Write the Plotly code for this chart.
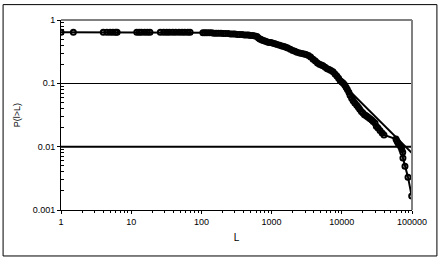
import plotly.graph_objects as go

# Empirical complementary cumulative distribution P(l>L)
L_values = [1, 1.5, 4, 4.5, 5, 5.5, 6, 6.3, 12, 13, 14, 15.5, 17, 18.5, 26, 29, 32, 35, 39, 43, 48, 53, 58, 64, 69,
            105, 112, 120, 130, 140, 150, 162, 175, 190, 205, 220, 240, 260, 280, 300, 325, 350, 380, 410, 440, 470,
            500, 540, 580, 620, 650, 680, 710, 740, 780, 820, 870, 920, 980, 1050, 1120, 1200, 1300, 1400, 1500,
            1600, 1700, 1850, 2000, 2150, 2300, 2500, 2700, 2900, 3100, 3350, 3600, 3900, 4200, 4500, 4800, 5100,
            5400, 5800, 6200, 6600, 7000, 7500, 8000, 8500, 9000, 9500, 10000, 10500, 11000, 11500, 12000, 12600,
            13100, 13800, 14500, 15300, 16300, 17200, 18000, 19000, 20000, 21000, 22000, 23000, 24000, 25300,
            26700, 28000, 29700, 31000, 32800, 35000, 37500, 39900, 59100, 61000, 63100, 66000, 69000, 71500,
            73800, 74300, 79400, 87700, 99000]
P_values = [0.64, 0.64, 0.64, 0.64, 0.64, 0.64, 0.64, 0.64, 0.64, 0.64, 0.64, 0.64, 0.64, 0.64, 0.64, 0.64, 0.64,
            0.64, 0.64, 0.64, 0.64, 0.64, 0.64, 0.64, 0.64,
            0.63, 0.63, 0.63, 0.63, 0.63, 0.62, 0.62, 0.62, 0.62, 0.61, 0.61, 0.61, 0.60, 0.60, 0.60, 0.59, 0.59,
            0.59, 0.58, 0.58, 0.58, 0.57, 0.57, 0.56, 0.55, 0.52, 0.50, 0.49, 0.48, 0.47, 0.46, 0.45, 0.44, 0.44,
            0.43, 0.42, 0.41, 0.40, 0.39, 0.38, 0.37, 0.36, 0.345, 0.33, 0.32, 0.31, 0.30, 0.295, 0.29, 0.285,
            0.275, 0.26, 0.24, 0.225, 0.21, 0.20, 0.195, 0.19, 0.18, 0.17, 0.165, 0.16, 0.152, 0.14, 0.13, 0.12,
            0.11, 0.105, 0.10, 0.094, 0.087, 0.08, 0.072, 0.065, 0.058, 0.053, 0.049, 0.045, 0.042, 0.039, 0.036,
            0.034, 0.032, 0.031, 0.030, 0.029, 0.0275, 0.0263, 0.025, 0.0236, 0.021, 0.0197, 0.018, 0.0165,
            0.0153, 0.0132, 0.0123, 0.0114, 0.0107, 0.0100, 0.0090, 0.0082, 0.0066, 0.0049, 0.0033, 0.00166]

# Power-law fit line
fit_L = [10000, 100000]
fit_P = [0.1, 0.0079]

# Horizontal reference level
ref_L = [1, 100000]
ref_P = [0.01, 0.01]

x_tick_vals = [1, 10, 100, 1000, 10000, 100000]
x_tick_text = ["1", "10", "100", "1000", "10000", "100000"]
y_tick_vals = [0.001, 0.01, 0.1, 1]
y_tick_text = ["0.001", "0.01", "0.1", "1"]
minor_mult = [2, 3, 4, 5, 6, 7, 8, 9]
x_minor_vals = [m * d for d in [1, 10, 100, 1000, 10000] for m in minor_mult]
y_minor_vals = [m * d for d in [0.001, 0.01, 0.1] for m in minor_mult]

FONT = "Liberation Sans, Arial, sans-serif"

fig = go.Figure()
fig.add_trace(go.Scatter(x=ref_L, y=ref_P, mode="lines",
                         line=dict(color="black", width=2), hoverinfo="skip", showlegend=False))
fig.add_trace(go.Scatter(x=fit_L, y=fit_P, mode="lines",
                         line=dict(color="black", width=2), showlegend=False))
fig.add_trace(go.Scatter(x=L_values, y=P_values, mode="lines+markers",
                         line=dict(color="black", width=2),
                         marker=dict(symbol="circle-open", size=5, color="black", line=dict(width=2)),
                         showlegend=False))

fig.update_layout(
    width=441, height=262,
    margin=dict(l=61, r=29, t=20, b=52),
    paper_bgcolor="white", plot_bgcolor="white",
    font=dict(family=FONT, size=9, color="black"),
    xaxis=dict(type="log", range=[0, 5], tickvals=x_tick_vals, ticktext=x_tick_text,
               showgrid=False, zeroline=False, showline=True, linecolor="black", linewidth=1,
               ticks="outside", ticklen=3, tickcolor="black",
               minor=dict(tickmode="array", tickvals=x_minor_vals, ticks="outside", ticklen=2,
                          tickcolor="black", showgrid=False),
               title=dict(text="L", font=dict(size=10), standoff=8)),
    yaxis=dict(type="log", range=[-3, 0], tickvals=y_tick_vals, ticktext=y_tick_text,
               showgrid=True, gridcolor="black", gridwidth=1, zeroline=False,
               showline=True, linecolor="black", linewidth=1,
               ticks="outside", ticklen=3, tickcolor="black",
               minor=dict(tickmode="array", tickvals=y_minor_vals, ticks="inside", ticklen=3,
                          tickcolor="black", showgrid=False),
               title=dict(text="P(l>L)", font=dict(size=9), standoff=10)),
    shapes=[
        dict(type="line", xref="paper", yref="paper", x0=0, x1=1, y0=1, y1=1,
             line=dict(color="#808080", width=2), layer="above"),
        dict(type="line", xref="paper", yref="paper", x0=1, x1=1, y0=0, y1=1,
             line=dict(color="#808080", width=2), layer="above"),
        dict(type="rect", xref="paper", yref="paper", x0=-0.165, x1=1.071, y0=-0.242, y1=1.081,
             line=dict(color="black", width=1), fillcolor="rgba(0,0,0,0)"),
    ],
)

fig.write_html("out.html", config={"displayModeBar": False},
               post_script="document.body.style.margin='0';document.body.style.overflow='hidden';")
